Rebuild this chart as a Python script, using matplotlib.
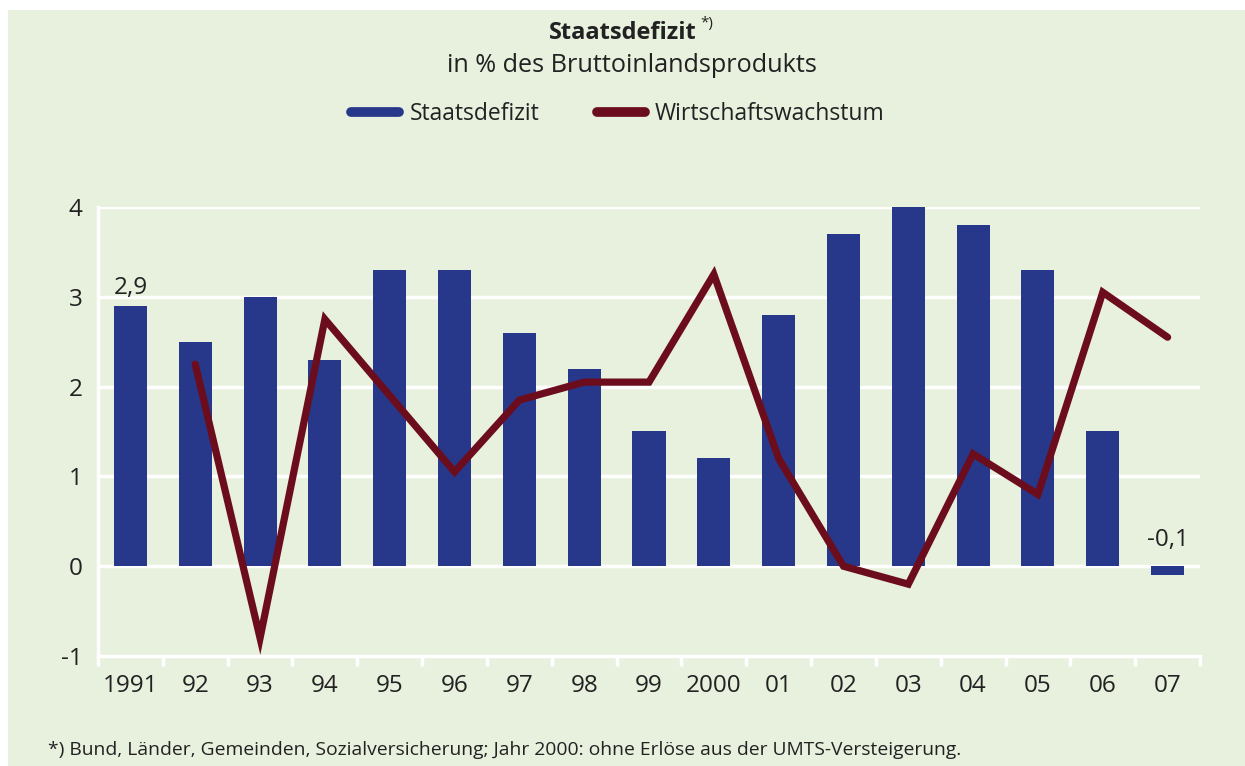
import matplotlib
matplotlib.use("Agg")
import matplotlib.pyplot as plt
import numpy as np
from matplotlib.lines import Line2D
from matplotlib.patches import Rectangle

years = ["1991", "92", "93", "94", "95", "96", "97", "98", "99", "2000",
         "01", "02", "03", "04", "05", "06", "07"]
defizit = [2.9, 2.5, 3.0, 2.3, 3.3, 3.3, 2.6, 2.2, 1.5, 1.2,
           2.8, 3.7, 4.0, 3.8, 3.3, 1.5, -0.1]
# growth series starts in 1992
wachstum_years = years[1:]
wachstum = [2.25, -0.8, 2.75, 1.9, 1.05, 1.85, 2.05, 2.05, 3.25,
            1.2, 0.0, -0.2, 1.25, 0.8, 3.05, 2.55]

BG = "#e8f0de"
BLUE = "#27378a"
RED = "#6c0d1d"
TXT = "#222222"

plt.rcParams["font.family"] = ["Open Sans", "DejaVu Sans"]

W, H = 1245, 766
fig = plt.figure(figsize=(W / 100, H / 100), dpi=100, facecolor="white")
fig.patches.append(Rectangle((8 / W, 0), 1 - 8 / W, 1 - 10 / H, transform=fig.transFigure,
                             facecolor=BG, edgecolor="none", zorder=-10))

ax = fig.add_axes([98 / W, 1 - 656 / H, (1200 - 98) / W, (656 - 207) / H])
ax.set_facecolor("none")

x = np.arange(len(years))
ax.bar(x, defizit, width=0.51, color=BLUE, zorder=3)
xw = np.arange(1, len(years))
ax.plot(xw, wachstum, color=RED, lw=5.2, solid_capstyle="round",
        solid_joinstyle="miter", zorder=4)

ax.set_xlim(-0.5, len(years) - 0.5)
ax.set_ylim(-1, 4)
for v in range(0, 5):
    ax.axhline(v, color="white", lw=2.5, zorder=1)

for s in ["top", "right"]:
    ax.spines[s].set_visible(False)
for s in ["left", "bottom"]:
    ax.spines[s].set_color("white")
    ax.spines[s].set_linewidth(2.5)

ax.set_yticks(range(-1, 5))
ax.set_yticklabels([str(v) for v in range(-1, 5)])
ax.tick_params(axis="y", length=0, pad=11, labelsize=17.5, labelcolor=TXT)

ax.set_xticks(x)
ax.set_xticklabels(years)
ax.set_xticks(np.arange(-0.5, len(years)), minor=True)
ax.tick_params(axis="x", which="major", length=0, pad=13, labelsize=17.5, labelcolor=TXT)
ax.tick_params(axis="x", which="minor", length=7, width=2.5, color="white", direction="out")

ax.text(x[0], defizit[0] + 0.06, "2,9", ha="center", va="bottom", fontsize=17.5, color=TXT)
ax.text(x[-1], 0.16, "-0,1", ha="center", va="bottom", fontsize=17.5, color=TXT)

fig.text(623 / W, 1 - 33 / H, "Staatsdefizit", ha="center", va="center",
         fontsize=17, fontweight="bold", color=TXT)
fig.text(700 / W, 1 - 24 / H, "*)", ha="left", va="center", fontsize=11, color=TXT)
fig.text(632 / W, 1 - 66 / H, "in % des Bruttoinlandsprodukts", ha="center", va="center",
         fontsize=18.2, color=TXT)

handles = [Line2D([], [], color=BLUE, lw=7, solid_capstyle="round"),
           Line2D([], [], color=RED, lw=7, solid_capstyle="round")]
fig.legend(handles, ["Staatsdefizit", "Wirtschaftswachstum"], loc="center",
           bbox_to_anchor=(618 / W, 1 - 114 / H), ncol=2, frameon=False,
           fontsize=16.5, handlelength=2.1, columnspacing=2.5, handletextpad=0.45,
           labelcolor=TXT)

fig.text(48 / W, 1 - 750 / H,
         "*) Bund, Länder, Gemeinden, Sozialversicherung; Jahr 2000: ohne Erlöse aus der UMTS-Versteigerung.",
         ha="left", va="center", fontsize=13.85, color=TXT)

fig.savefig("out.png", dpi=100, facecolor=fig.get_facecolor())
